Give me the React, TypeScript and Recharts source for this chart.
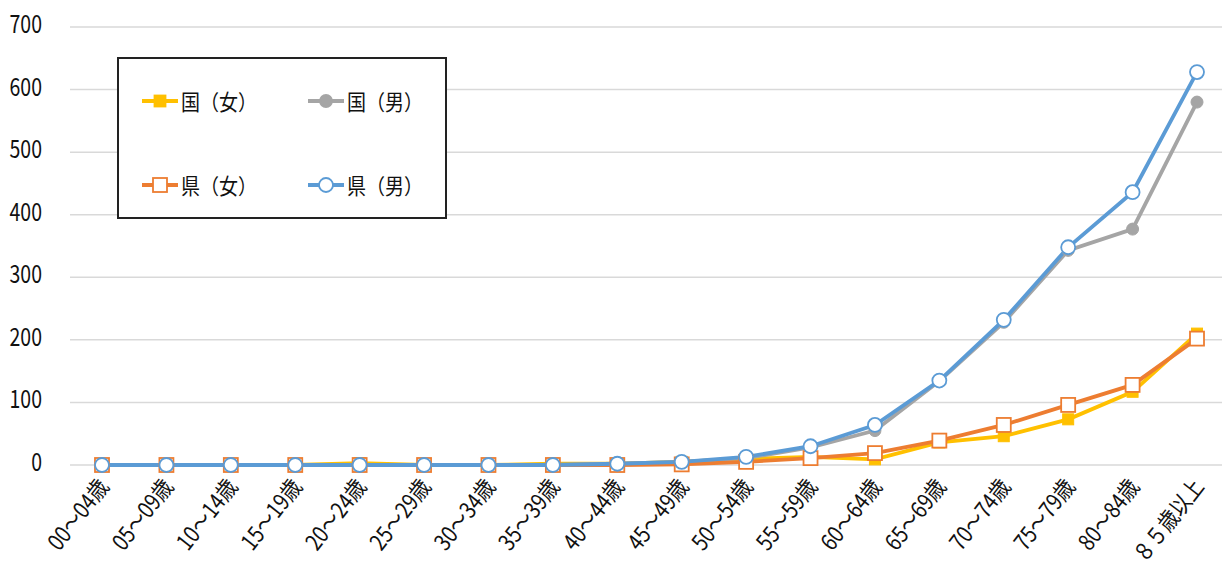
import React from 'react';
import { LineChart, Line, XAxis, YAxis, CartesianGrid, Legend } from 'recharts';

const categories = [
  '00～04歳', '05～09歳', '10～14歳', '15～19歳', '20～24歳', '25～29歳',
  '30～34歳', '35～39歳', '40～44歳', '45～49歳', '50～54歳', '55～59歳',
  '60～64歳', '65～69歳', '70～74歳', '75～79歳', '80～84歳', '８５歳以上',
];

// 国（女）, 国（男）, 県（女）, 県（男）
const nationalFemale = [0, 0, 0, 0, 3, 0, 0, 2, 2, 5, 10, 13, 9, 36, 46, 73, 117, 210];
const nationalMale = [0, 0, 0, 0, 0, 0, 0, 0, 2, 5, 11, 28, 55, 134, 228, 343, 377, 580];
const prefFemale = [0, 0, 0, 0, 0, 0, 0, 0, 0, 1, 5, 11, 19, 39, 64, 96, 128, 202];
const prefMale = [0, 0, 0, 0, 0, 0, 0, 0, 2, 5, 13, 30, 64, 135, 232, 348, 436, 628];

const yTicks = [0, 100, 200, 300, 400, 500, 600, 700];

const data = categories.map((name, i) => ({
  name,
  nf: nationalFemale[i],
  nm: nationalMale[i],
  pf: prefFemale[i],
  pm: prefMale[i],
}));

const FONT = '"Noto Sans CJK JP", "Noto Sans", sans-serif';

type Marker = 'square' | 'circle';

const series = [
  { key: 'nf', name: '国（女）', color: '#FFC000', marker: 'square' as Marker, filled: true },
  { key: 'nm', name: '国（男）', color: '#A5A5A5', marker: 'circle' as Marker, filled: true },
  { key: 'pf', name: '県（女）', color: '#ED7D31', marker: 'square' as Marker, filled: false },
  { key: 'pm', name: '県（男）', color: '#5B9BD5', marker: 'circle' as Marker, filled: false },
];

const makeDot = (marker: Marker, color: string, filled: boolean) => (props: any) => {
  const { cx, cy, index } = props;
  if (cx == null || cy == null) return <g key={index} />;
  if (marker === 'square') {
    const s = filled ? 11 : 14;
    return (
      <rect
        key={index}
        x={cx - s / 2}
        y={cy - s / 2}
        width={s}
        height={s}
        fill={filled ? color : '#fff'}
        stroke={color}
        strokeWidth={filled ? 1 : 1.8}
      />
    );
  }
  return (
    <circle
      key={index}
      cx={cx}
      cy={cy}
      r={filled ? 6 : 7}
      fill={filled ? color : '#fff'}
      stroke={color}
      strokeWidth={filled ? 1 : 1.8}
    />
  );
};

const XTick = (props: any) => {
  const { x, y, payload } = props;
  return (
    <g transform={`translate(${x + 8},${y + 14})`}>
      <text
        transform="rotate(-52) scale(0.85,1)"
        textAnchor="end"
        fontSize={23}
        fontFamily={FONT}
        fill="#111"
      >
        {payload.value}
      </text>
    </g>
  );
};

const YTick = (props: any) => {
  const { y, payload } = props;
  return (
    <g transform={`translate(42,${y})`}>
      <text transform="scale(0.78,1)" textAnchor="end" dy={6} fontSize={25} fontFamily={FONT} fill="#111">
        {payload.value}
      </text>
    </g>
  );
};

const LegendMarker = ({ marker, color, filled }: { marker: Marker; color: string; filled: boolean }) => (
  <svg width={38} height={18} style={{ display: 'block' }}>
    <line x1={1} y1={9} x2={37} y2={9} stroke={color} strokeWidth={4} />
    {marker === 'square' ? (
      <rect
        x={filled ? 13.5 : 12}
        y={filled ? 3.5 : 2}
        width={filled ? 11 : 14}
        height={filled ? 11 : 14}
        fill={filled ? color : '#fff'}
        stroke={color}
        strokeWidth={1.8}
      />
    ) : (
      <circle cx={19} cy={9} r={filled ? 6 : 7} fill={filled ? color : '#fff'} stroke={color} strokeWidth={1.8} />
    )}
  </svg>
);

const LegendBox = () => (
  <div
    style={{
      width: 326,
      height: 158,
      border: '2px solid #222',
      background: '#fff',
      boxSizing: 'content-box',
      position: 'relative',
      fontFamily: FONT,
    }}
  >
    {series.map((s, i) => (
      <div
        key={s.key}
        style={{
          position: 'absolute',
          left: i % 2 === 0 ? 22 : 188,
          top: i < 2 ? 28 : 112,
          display: 'flex',
          alignItems: 'center',
          gap: 2,
        }}
      >
        <LegendMarker marker={s.marker} color={s.color} filled={s.filled} />
        <span style={{ fontSize: 19, color: '#111', display: 'inline-block', transform: 'scaleY(1.12)' }}>
          {s.name}
        </span>
      </div>
    ))}
  </div>
);

export default function App() {
  return (
    <div style={{ position: 'absolute', left: 0, top: 0, width: 1222, height: 569, overflow: 'hidden', background: '#fff' }}>
      <LineChart width={1230} height={569} data={data} margin={{ top: 27, right: 1, bottom: 0, left: 0 }}>
        <CartesianGrid vertical={false} stroke="#D9D9D9" strokeWidth={1.5} />
        <XAxis
          dataKey="name"
          axisLine={false}
          tickLine={false}
          interval={0}
          height={104}
          padding={{ left: 32, right: 32 }}
          tick={<XTick />}
        />
        <YAxis
          domain={[0, 700]}
          ticks={yTicks}
          axisLine={false}
          tickLine={false}
          width={70}
          tick={<YTick />}
          interval={0}
        />
        <Legend
          layout="horizontal"
          verticalAlign="middle"
          align="center"
          content={() => <LegendBox />}
          wrapperStyle={{ position: 'absolute', left: 117, top: 57, width: 330, height: 162 }}
        />
        {series.map((s) => (
          <Line
            key={s.key}
            dataKey={s.key}
            name={s.name}
            stroke={s.color}
            strokeWidth={3.8}
            dot={makeDot(s.marker, s.color, s.filled)}
            activeDot={false}
            isAnimationActive={false}
          />
        ))}
      </LineChart>
    </div>
  );
}
